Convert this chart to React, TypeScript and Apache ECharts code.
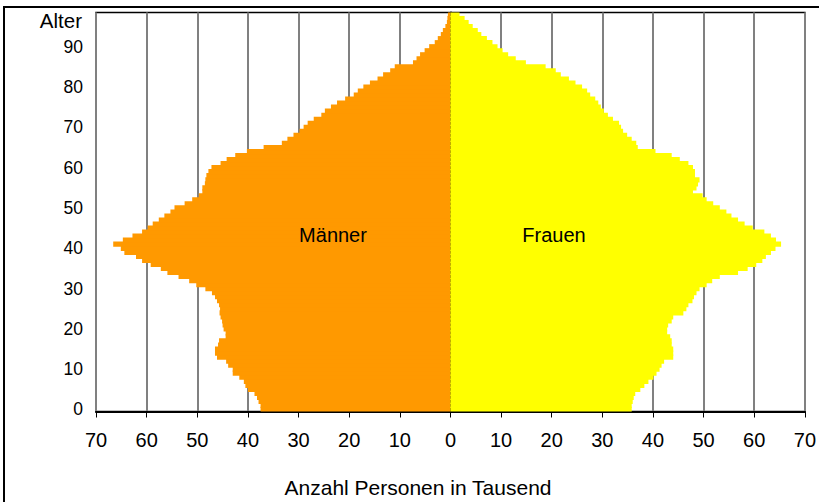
import React, { useEffect, useRef } from "react";
import * as echarts from "echarts";

const ages: string[] = Array.from({ length: 99 }, (_, i) => String(i));

// Männer, in Tausend, Alter 0..98
const maenner: number[] = [
  37.5, 37.5, 37.9, 38.2, 38.7, 40.0, 40.5, 40.8, 41.7, 43.0,
  43.0, 43.9, 44.3, 46.1, 46.5, 46.5, 45.9, 45.7, 44.4, 44.4,
  44.8, 45.0, 45.1, 45.4, 45.6, 45.5, 45.7, 46.1, 46.5, 47.1,
  48.4, 50.2, 51.6, 53.7, 55.9, 57.2, 59.2, 60.9, 62.1, 64.4,
  65.1, 66.6, 64.7, 62.8, 60.9, 59.8, 58.8, 57.6, 56.5, 55.3,
  54.5, 52.5, 51.0, 49.7, 49.0, 49.0, 48.5, 48.4, 48.2, 47.8,
  47.2, 45.4, 44.2, 42.5, 40.2, 36.9, 33.3, 32.2, 31.0, 29.8,
  29.0, 28.2, 27.0, 25.5, 24.8, 23.6, 22.4, 20.8, 19.1, 18.3,
  17.2, 15.9, 14.4, 13.3, 11.9, 11.0, 7.4, 6.7, 6.0, 5.1,
  4.2, 3.1, 2.5, 1.9, 1.5, 1.0, 0.7, 0.6, 0.5,
];

// Frauen, in Tausend, Alter 0..98
const frauen: number[] = [
  35.8, 35.8, 36.0, 36.2, 36.5, 37.5, 38.3, 39.1, 40.1, 40.7,
  41.3, 41.7, 42.2, 44.0, 44.0, 44.0, 43.7, 43.7, 43.4, 42.8,
  42.8, 43.0, 43.7, 44.0, 46.0, 46.6, 47.0, 47.8, 48.1, 48.6,
  49.2, 50.6, 51.7, 53.2, 56.8, 58.7, 60.4, 61.6, 62.3, 63.3,
  64.2, 65.3, 64.3, 63.3, 62.0, 59.7, 58.1, 56.8, 55.5, 54.5,
  53.2, 51.9, 50.6, 49.8, 47.9, 48.6, 48.9, 49.2, 48.3, 48.3,
  47.9, 47.0, 45.3, 43.7, 40.5, 37.0, 36.7, 35.8, 34.9, 34.1,
  33.7, 33.3, 32.1, 31.1, 30.3, 29.7, 29.2, 28.6, 27.6, 27.0,
  26.0, 24.7, 23.4, 21.8, 20.8, 18.8, 14.9, 12.9, 11.4, 10.3,
  9.3, 8.3, 7.2, 6.1, 5.4, 4.4, 3.6, 2.8, 1.8,
];

const xTicks: number[] = [-70, -60, -50, -40, -30, -20, -10, 0, 10, 20, 30, 40, 50, 60, 70];

export default function App() {
  const ref = useRef<HTMLDivElement>(null);
  useEffect(() => {
    if (!ref.current) return;
    const chart = echarts.init(ref.current, null, { renderer: "svg" });
    chart.setOption({
      animation: false,
      backgroundColor: "#ffffff",
      grid: {
        left: 96,
        right: 9,
        top: 12.5,
        bottom: 90.5,
        show: true,
        borderColor: "#000",
        borderWidth: 1.5,
        backgroundColor: "transparent",
      },
      xAxis: {
        type: "value",
        min: xTicks[0],
        max: xTicks[xTicks.length - 1],
        interval: 10,
        axisLine: { show: true, onZero: false, lineStyle: { color: "#000", width: 2 } },
        axisTick: { show: true, length: 6, lineStyle: { color: "#000", width: 1 } },
        axisLabel: {
          formatter: (v: number) => String(Math.abs(v)),
          fontFamily: "'Liberation Sans Narrow', 'Liberation Sans', Arial, sans-serif",
          fontSize: 20,
          color: "#000",
          margin: 18,
        },
        splitLine: { show: true, lineStyle: { color: "#808080", width: 2 } },
      },
      yAxis: {
        type: "category",
        data: ages,
        boundaryGap: true,
        axisLine: { show: true, lineStyle: { color: "#000", width: 2 } },
        axisTick: { show: false },
        axisLabel: {
          interval: 9,
          fontFamily: "'Liberation Sans', Arial, sans-serif",
          fontSize: 17.5,
          color: "#000",
          margin: 13,
        },
        splitLine: { show: false },
      },
      series: [
        {
          name: "Männer",
          type: "bar",
          stack: "pyr",
          data: maenner.map((v) => -v),
          barWidth: "130%",
          itemStyle: { color: "#FF9900" },
          silent: true,
        },
        {
          name: "Frauen",
          type: "bar",
          stack: "pyr",
          data: frauen,
          barWidth: "130%",
          itemStyle: { color: "#FFFF00" },
          silent: true,
        },
      ],
      graphic: [
        {
          type: "rect",
          shape: { x: 4, y: 7, width: 840, height: 520 },
          style: { fill: "none", stroke: "#000", lineWidth: 2 },
          silent: true,
        },
        {
          type: "text",
          x: 82,
          y: 20,
          style: {
            text: "Alter",
            fontFamily: "'Liberation Sans', Arial, sans-serif",
            fontSize: 20.5,
            fill: "#000",
            align: "right",
            verticalAlign: "middle",
          },
        },
        {
          type: "text",
          x: 333,
          y: 235,
          z: 10,
          style: {
            text: "Männer",
            fontFamily: "'Liberation Sans', Arial, sans-serif",
            fontSize: 20,
            fill: "#000",
            align: "center",
            verticalAlign: "middle",
          },
        },
        {
          type: "text",
          x: 554,
          y: 235,
          z: 10,
          style: {
            text: "Frauen",
            fontFamily: "'Liberation Sans', Arial, sans-serif",
            fontSize: 20,
            fill: "#000",
            align: "center",
            verticalAlign: "middle",
          },
        },
        {
          type: "text",
          x: 418,
          y: 487,
          style: {
            text: "Anzahl Personen in Tausend",
            fontFamily: "'Liberation Sans', Arial, sans-serif",
            fontSize: 21,
            fill: "#000",
            align: "center",
            verticalAlign: "middle",
          },
        },
      ],
    });
    return () => chart.dispose();
  }, []);
  return (
    <div
      ref={ref}
      style={{ position: "absolute", left: 0, top: 0, width: 819, height: 502, background: "#fff" }}
    />
  );
}
